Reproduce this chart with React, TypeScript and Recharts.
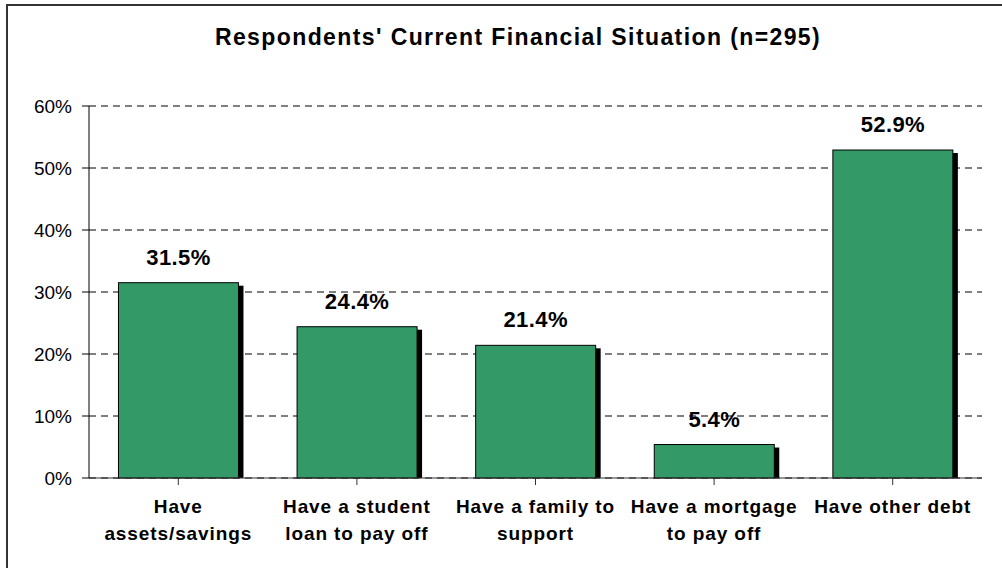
import { BarChart, Bar, XAxis, YAxis, CartesianGrid, LabelList } from "recharts";

const categories = [
  "Have assets/savings",
  "Have a student loan to pay off",
  "Have a family to support",
  "Have a mortgage to pay off",
  "Have other debt",
];
const shares = [31.5, 24.4, 21.4, 5.4, 52.9];
const yTicks = [0, 10, 20, 30, 40, 50, 60];

// label lines as they wrap in the original
const labelLines: Record<string, string[]> = {
  "Have assets/savings": ["Have", "assets/savings"],
  "Have a student loan to pay off": ["Have a student", "loan to pay off"],
  "Have a family to support": ["Have a family to", "support"],
  "Have a mortgage to pay off": ["Have a mortgage", "to pay off"],
  "Have other debt": ["Have other debt"],
};

const data = categories.map((name, i) => ({ name, value: shares[i] }));

const FONT = "'Liberation Sans', Arial, sans-serif";

function ShadowBar(props: any) {
  const { x, y, width, height } = props;
  if (!height || height <= 0) return null;
  return (
    <g>
      <rect x={x + 5} y={y + 3} width={width} height={height - 3} fill="#000" />
      <rect x={x} y={y} width={width} height={height} fill="#339966" stroke="#000" strokeWidth={1} />
    </g>
  );
}

function CategoryTick(props: any) {
  const { x, y, payload } = props;
  const lines = labelLines[payload.value] ?? [payload.value];
  return (
    <text
      x={x}
      y={y}
      textAnchor="middle"
      fontFamily={FONT}
      fontSize={19}
      fontWeight="bold"
      letterSpacing={0.9}
      fill="#000"
    >
      {lines.map((line, i) => (
        <tspan key={i} x={x} dy={i === 0 ? 26 : 27}>
          {line}
        </tspan>
      ))}
    </text>
  );
}

export default function App() {
  return (
    <div
      style={{
        position: "fixed",
        left: 0,
        top: 0,
        width: 1002,
        height: 568,
        overflow: "hidden",
        background: "#fff",
        fontFamily: FONT,
      }}
    >
      <div
        style={{
          position: "absolute",
          left: 6,
          top: 4,
          width: 1100,
          height: 700,
          border: "2px solid #333",
        }}
      />
      <div
        style={{
          position: "absolute",
          left: 0,
          top: 24,
          width: 1036,
          textAlign: "center",
          fontSize: 23,
          fontWeight: "bold",
          letterSpacing: 1.4,
          color: "#000",
        }}
      >
        Respondents' Current Financial Situation (n=295)
      </div>
      <div style={{ position: "absolute", left: 0, top: 0 }}>
        <BarChart
          width={1002}
          height={568}
          data={data}
          margin={{ top: 106, right: 20, bottom: 0, left: 0 }}
          barCategoryGap="16.5%"
        >
          <CartesianGrid
            vertical={false}
            stroke="#000"
            strokeDasharray="7 5"
          />
          <XAxis
            dataKey="name"
            height={90}
            stroke="#333"
            tickSize={7}
            interval={0}
            tick={<CategoryTick />}
            tickLine={{ stroke: "#333" }}
          />
          <YAxis
            width={89}
            domain={[0, 60]}
            ticks={yTicks}
            tickFormatter={(v) => `${v}%`}
            stroke="#000"
            tickSize={7}
            tickMargin={10}
            tick={{ fill: "#000", fontSize: 19, fontFamily: FONT }}
          />
          <Bar dataKey="value" shape={<ShadowBar />} isAnimationActive={false}>
            <LabelList
              dataKey="value"
              position="top"
              offset={18}
              formatter={(v: any) => `${Number(v).toFixed(1)}%`}
              style={{ fill: "#000", fontSize: 22, fontWeight: "bold", fontFamily: FONT, letterSpacing: 0.4 }}
            />
          </Bar>
        </BarChart>
      </div>
    </div>
  );
}
